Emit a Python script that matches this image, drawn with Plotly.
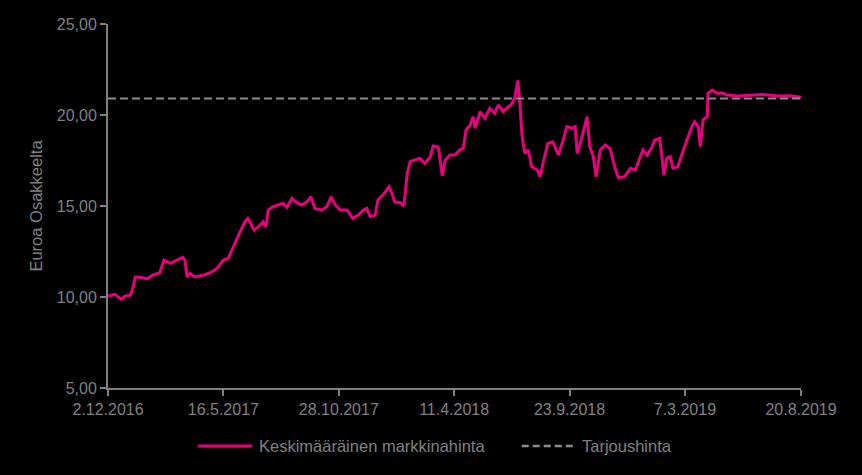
import pandas as pd
import plotly.graph_objects as go

start_date = "2016-12-02"
end_date = "2019-08-20"

# days after start date and average market price (EUR)
days = [0, 10, 19, 24, 32, 36, 39, 46, 56, 64, 74, 80, 89, 99, 107, 110, 113, 117, 124,
        136, 146, 156, 165, 172, 177, 185, 189, 196, 200, 209, 215, 222, 226, 229, 236,
        243, 250, 256, 263, 270, 277, 285, 290, 296, 306, 313, 319, 325, 332, 342, 350,
        358, 365, 370, 375, 382, 386, 393, 402, 406, 410, 418, 423, 428, 432, 439, 446,
        453, 461, 465, 471, 473, 478, 482, 489, 496, 503, 508, 512, 518, 522, 525, 532,
        539, 546, 553, 558, 565, 572, 578, 582, 586, 589, 592, 596, 601, 606, 614, 618,
        622, 629, 636, 644, 651, 656, 664, 668, 671, 678, 685, 689, 694, 698, 704, 711,
        718, 725, 730, 739, 747, 754, 761, 765, 771, 778, 782, 789, 792, 795, 799, 804,
        808, 815, 822, 829, 835, 839, 844, 847, 849, 851, 857, 858, 864, 871, 878, 885,
        900, 918, 937, 957, 975, 991]
price = [10.05, 10.15, 9.87, 10.05, 10.10, 10.57, 11.10, 11.08, 11.00, 11.20, 11.33, 12.03,
         11.85, 12.03, 12.18, 12.03, 11.10, 11.30, 11.10, 11.20, 11.33, 11.57, 12.03, 12.12,
         12.58, 13.31, 13.59, 14.14, 14.32, 13.68, 13.86, 14.14, 13.86, 14.78, 14.96, 15.05,
         15.15, 14.93, 15.42, 15.18, 15.05, 15.24, 15.51, 14.87, 14.78, 14.96, 15.51, 15.05,
         14.78, 14.78, 14.32, 14.50, 14.78, 14.87, 14.41, 14.50, 15.33, 15.60, 16.06, 15.70,
         15.24, 15.18, 15.00, 16.80, 17.44, 17.53, 17.62, 17.35, 17.71, 18.30, 18.26, 18.08,
         16.65, 17.50, 17.80, 17.80, 18.08, 18.17, 19.18, 19.45, 19.91, 19.27, 20.18, 19.82,
         20.37, 20.09, 20.55, 20.18, 20.46, 20.64, 21.00, 21.90, 20.64, 18.90, 17.89, 18.08,
         17.16, 16.98, 16.61, 17.35, 18.44, 18.53, 17.80, 18.63, 19.36, 19.27, 19.36, 17.89,
         18.81, 19.91, 18.26, 17.71, 16.61, 18.08, 18.35, 18.15, 17.10, 16.55, 16.61, 17.07,
         16.98, 17.71, 18.08, 17.80, 18.26, 18.63, 18.72, 17.71, 16.70, 17.62, 17.71, 17.07,
         17.16, 17.99, 18.72, 19.36, 19.63, 19.36, 18.26, 19.18, 19.73, 19.91, 21.19, 21.37,
         21.19, 21.22, 21.10, 21.04, 21.10, 21.13, 21.04, 21.06, 20.97]

offer_price = 20.90

tick_dates = ["2016-12-02", "2017-05-16", "2017-10-28", "2018-04-11", "2018-09-23",
              "2019-03-07", "2019-08-20"]
tick_labels = ["2.12.2016", "16.5.2017", "28.10.2017", "11.4.2018", "23.9.2018",
               "7.3.2019", "20.8.2019"]
y_ticks = [5, 10, 15, 20, 25]

series_names = ["Keskimääräinen markkinahinta", "Tarjoushinta"]

dates = pd.to_datetime(start_date) + pd.to_timedelta(days, unit="D")

grey = "#808080"
magenta = "#E6007E"
dash_grey = "#8c8c8c"
font = "Liberation Sans, Arial, sans-serif"

fig = go.Figure()
fig.add_trace(go.Scatter(x=dates, y=price, mode="lines", name=series_names[0],
                         line=dict(color=magenta, width=3)))
fig.add_trace(go.Scatter(x=[start_date, end_date], y=[offer_price, offer_price],
                         mode="lines", name=series_names[1],
                         line=dict(color=dash_grey, width=2, dash="8px,4px")))

# custom legend (longer line samples like the original)
legend_y = -0.159
fig.add_shape(type="line", xref="paper", yref="paper", x0=0.130, x1=0.208,
              y0=legend_y, y1=legend_y, line=dict(color=magenta, width=3))
fig.add_shape(type="line", xref="paper", yref="paper", x0=0.597, x1=0.674,
              y0=legend_y, y1=legend_y, line=dict(color=dash_grey, width=2.5, dash="7px,4px"))
fig.add_annotation(xref="paper", yref="paper", x=0.215, y=legend_y, xanchor="left",
                   yanchor="middle", text=series_names[0], showarrow=False,
                   font=dict(size=16.5, color=grey))
fig.add_annotation(xref="paper", yref="paper", x=0.681, y=legend_y, xanchor="left",
                   yanchor="middle", text=series_names[1], showarrow=False,
                   font=dict(size=16.5, color=grey))

fig.update_layout(
    width=862, height=475,
    paper_bgcolor="black", plot_bgcolor="black",
    margin=dict(l=108, r=61, t=24, b=87),
    font=dict(family=font, size=16, color=grey),
    separators=", ",
    showlegend=False,
    xaxis=dict(range=[start_date, end_date], tickvals=tick_dates, ticktext=tick_labels,
               showgrid=False, zeroline=False, showline=True, linecolor=grey,
               linewidth=2, ticks="outside", tickcolor=grey, ticklen=6, tickwidth=2,
               tickfont=dict(size=16, color=grey)),
    yaxis=dict(range=[5, 25], tickvals=y_ticks, tickformat=".2f",
               showgrid=False, zeroline=False, showline=True, linecolor=grey,
               linewidth=2, ticks="outside", tickcolor=grey, ticklen=6, tickwidth=2,
               tickfont=dict(size=16, color=grey),
               title=dict(text="Euroa Osakkeelta", font=dict(size=16.5, color=grey),
                          standoff=10)),
)

fig.write_html("out.html",
               config={"displayModeBar": False},
               post_script="document.body.style.margin='0';"
                           "document.body.style.background='#000';")
